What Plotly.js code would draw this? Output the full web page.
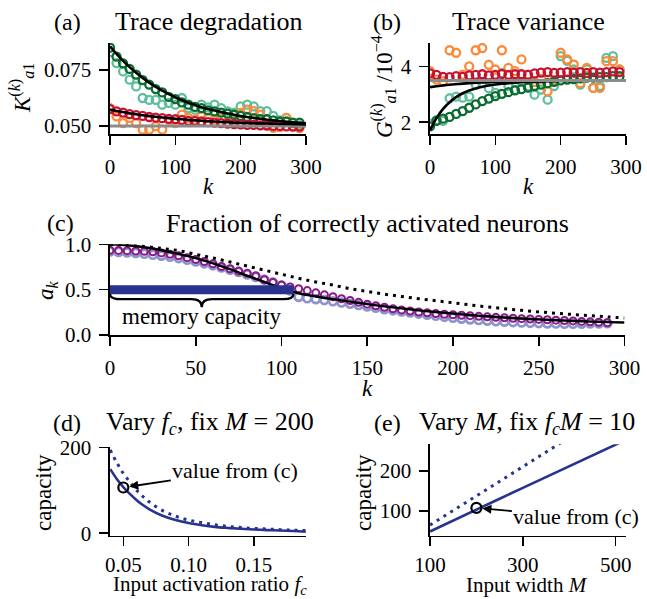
<!DOCTYPE html>
<html>
<head>
<meta charset="utf-8">
<script src="https://cdn.plot.ly/plotly-3.0.1.min.js"></script>
<style>html,body{margin:0;padding:0;background:#fff;}#chart{width:647px;height:599px;}</style>
</head>
<body>
<div id="chart"></div>
<script>
// ---------- data ----------
const kA = [0,10,20,30,40,50,60,70,80,90,100,110,120,130,140,150,160,170,180,190,200,210,220,230,240,250,260,270,280,290];
const kT = [0,10,20,30,40,50,60,70,80,90,100,110,120,130,140,150,160,170,180,190,200,210,220,230,240,250,260,270,280,290,300];

// (a) trace degradation K_a1^(k)
const aDark   = [0.085,0.081,0.078,0.0755,0.073,0.0705,0.0685,0.0665,0.065,0.063,0.062,0.0605,0.0595,0.0585,0.058,0.057,0.0565,0.056,0.0555,0.055,0.0545,0.054,0.0535,0.053,0.053,0.0525,0.052,0.052,0.0515,0.0515];
const aLight  = [0.083,0.0781,0.0744,0.0707,0.0677,0.0625,0.0617,0.0617,0.0595,0.0603,0.0595,0.0625,0.058,0.0573,0.0595,0.0583,0.0595,0.058,0.0565,0.056,0.0588,0.0595,0.0588,0.0566,0.0566,0.0545,0.0525,0.0536,0.0513,0.0503];
const aRed    = [0.0575,0.0565,0.056,0.0553,0.0548,0.0545,0.054,0.0537,0.0535,0.0532,0.053,0.0527,0.0523,0.0522,0.052,0.0517,0.0515,0.0513,0.051,0.0508,0.0507,0.0505,0.0505,0.0503,0.0502,0.05,0.05,0.0498,0.0497,0.0497];
const aOrange = [0.058,0.0543,0.0513,0.0536,0.0513,0.0484,0.0484,0.0499,0.0484,0.0528,0.0513,0.0551,0.0536,0.0528,0.0543,0.0536,0.0528,0.0536,0.0513,0.052,0.0558,0.0573,0.0566,0.0551,0.0506,0.0491,0.0495,0.0536,0.0499,0.049];
const aFitHigh = [0.0856,0.0822,0.0791,0.0763,0.0738,0.0715,0.0694,0.0675,0.0658,0.0642,0.0628,0.0615,0.0604,0.0594,0.0584,0.0576,0.0569,0.0562,0.0556,0.0550,0.0544,0.0540,0.0536,0.0532,0.0528,0.0525,0.0522,0.0519,0.0516,0.0514,0.0512];
const aFitLow  = [0.0573,0.0567,0.0562,0.0557,0.0552,0.0548,0.0544,0.0541,0.0538,0.0535,0.0532,0.053,0.0527,0.0525,0.0523,0.0521,0.052,0.0518,0.0517,0.0515,0.0514,0.0513,0.0512,0.0511,0.0511,0.051,0.0509,0.0509,0.0508,0.0508,0.0507];
const aBase = 0.05;

// (b) trace variance G_a1^(k) / 1e-4
const bDark   = [1.85,2.05,2.13,2.19,2.3,2.4,2.52,2.64,2.76,2.85,2.94,3.02,3.08,3.14,3.19,3.24,3.3,3.35,3.4,3.45,3.5,3.53,3.55,3.57,3.6,3.6,3.62,3.62,3.65,3.65];
const bLight  = [1.95,2.08,2.05,2.86,2.92,2.88,2.92,3.35,3.4,3.22,3.05,3.76,3.3,3.16,3.45,3.29,2.99,3.17,2.81,3.3,4.37,4.2,3.89,3.35,3.9,3.23,3.3,4.31,4.37,3.89];
const bRed    = [3.75,3.7,3.63,3.62,3.65,3.63,3.68,3.7,3.72,3.68,3.7,3.73,3.7,3.72,3.72,3.7,3.75,3.78,3.8,3.77,3.78,3.8,3.78,3.8,3.77,3.8,3.78,3.8,3.82,3.8];
const bOrange = [3.83,3.53,3.47,4.58,4.49,3.71,4.0,4.58,4.66,4.06,3.89,4.58,3.95,3.83,4.25,3.71,3.45,3.55,3.11,3.5,4.49,4.25,4.07,3.4,3.95,3.23,3.23,4.19,4.19,3.89];
const bFitHigh = [3.26,3.29,3.32,3.345,3.365,3.385,3.4,3.415,3.425,3.435,3.445,3.453,3.46,3.466,3.471,3.475,3.479,3.482,3.485,3.488,3.49,3.492,3.493,3.494,3.495,3.496,3.497,3.497,3.498,3.498,3.499];
const bFitLow  = [1.72,2.15,2.48,2.72,2.9,3.04,3.14,3.21,3.27,3.32,3.355,3.38,3.4,3.42,3.435,3.445,3.455,3.462,3.468,3.473,3.478,3.482,3.485,3.488,3.49,3.492,3.494,3.495,3.496,3.497,3.498];
const bBase = 3.5;

// (c) fraction of correctly activated neurons a_k
const kC = [0,5,10,15,20,25,30,35,40,45,50,55,60,65,70,75,80,85,90,95,100,105,110,115,120,125,130,135,140,145,150,155,160,165,170,175,180,185,190,195,200,205,210,215,220,225,230,235,240,245,250,255,260,265,270,275,280,285,290];
const cPurple   = [0.935,0.933,0.93,0.926,0.922,0.918,0.905,0.89,0.873,0.853,0.832,0.81,0.785,0.755,0.73,0.705,0.68,0.653,0.61,0.58,0.55,0.53,0.51,0.49,0.465,0.443,0.422,0.4,0.38,0.36,0.34,0.322,0.306,0.29,0.277,0.264,0.253,0.244,0.236,0.229,0.223,0.218,0.213,0.206,0.2,0.195,0.19,0.185,0.18,0.176,0.172,0.168,0.164,0.16,0.155,0.15,0.145,0.14,0.135];
const cLavender = [0.92,0.915,0.91,0.905,0.895,0.885,0.875,0.862,0.848,0.83,0.81,0.79,0.768,0.745,0.72,0.695,0.668,0.64,0.61,0.58,0.545,0.49,0.42,0.405,0.395,0.385,0.372,0.358,0.345,0.33,0.315,0.3,0.285,0.272,0.26,0.248,0.236,0.224,0.212,0.2,0.19,0.18,0.172,0.165,0.158,0.152,0.147,0.142,0.138,0.134,0.131,0.128,0.126,0.124,0.124,0.125,0.126,0.128,0.13];
const cTheory = [1.0,0.99,0.967,0.935,0.895,0.848,0.79,0.725,0.655,0.585,0.515,0.46,0.425,0.395,0.368,0.34,0.315,0.293,0.272,0.254,0.237,0.221,0.206,0.193,0.182,0.172,0.163,0.155,0.148,0.142,0.137];
const cDotted = [1.0,0.99,0.975,0.955,0.93,0.89,0.85,0.805,0.76,0.715,0.67,0.625,0.585,0.55,0.51,0.48,0.45,0.425,0.4,0.378,0.355,0.332,0.31,0.29,0.272,0.255,0.24,0.226,0.213,0.2,0.188];
const capacity = 107;
const capLevel = 0.5;

// (d) vary f_c, fix M = 200
const fc = [0.04,0.045,0.05,0.055,0.06,0.065,0.07,0.08,0.09,0.10,0.11,0.12,0.13,0.14,0.15,0.16,0.17,0.18,0.19];
const dSolid  = [150,127,108,92,78,66,56,41,31,24,19,15,12.5,10.5,9,7.5,6.5,5.5,4];
const dDotted = [195,165,140,120,101,86,73,53,40,31,25,20,16,13.5,11.5,10,8.5,7.5,6.5];
const fcPoint = 0.05;

// (e) vary M, fix f_c M = 10
const Mw = [100,150,200,250,300,350,400,450,500,520];
const eSolid  = [48,76,103,130,157,184,211,238,265,276];
const eDotted = [64,100.5,137,173.5,210,246.5,283,319.5,356,370.6];
const MPoint = 200;
const capPoint = 107;

// tick values
const ticksA_y = [0.05,0.075];
const ticksB_y = [2,4];
const ticksK   = [0,100,200,300];
const ticksC_x = [0,50,100,150,200,250,300];
const ticksC_y = [0,0.5,1.0];
const ticksD_x = [0.05,0.10,0.15];
const ticksD_y = [0,200];
const ticksE_x = [100,300,500];
const ticksE_y = [100,200];

// ---------- styles ----------
const F = 'Liberation Serif, Times New Roman, serif';
const C = {dark:'#0b6b30', light:'#5fbf9c', red:'#c4122f', orange:'#fb8a3a',
           purple:'#8a1a88', lav:'#8f93cc', blue:'#27338f', gray:'#8c8c8c'};
const X = p => p/647;
const Y = p => 1 - p/599;

function circles(x, y, color, xa, ya, size, lw){
  return {x:x, y:y, xaxis:xa, yaxis:ya, type:'scatter', mode:'markers', hoverinfo:'skip',
    marker:{symbol:'circle-open', size:size||8, color:color, line:{width:lw||2.3}}};
}
function line(x, y, color, xa, ya, width, dash, shape){
  return {x:x, y:y, xaxis:xa, yaxis:ya, type:'scatter', mode:'lines', hoverinfo:'skip',
    line:{color:color, width:width||2.5, dash:dash||'solid', shape:shape||'spline'}};
}

const traces = [
  // (a)
  circles(kA, aLight, C.light, 'x', 'y'),
  circles(kA, aOrange, C.orange, 'x', 'y'),
  circles(kA, aDark, C.dark, 'x', 'y'),
  circles(kA, aRed, C.red, 'x', 'y'),
  line([0,300], [aBase,aBase], C.gray, 'x', 'y', 3, 'solid', 'linear'),
  line(kT, aFitHigh, 'black', 'x', 'y', 2.6),
  line(kT, aFitLow, 'black', 'x', 'y', 2.6),
  // (b)
  circles(kA, bLight, C.light, 'x2', 'y2'),
  circles(kA, bOrange, C.orange, 'x2', 'y2'),
  circles(kA, bDark, C.dark, 'x2', 'y2'),
  circles(kA, bRed, C.red, 'x2', 'y2'),
  line(kT, bFitHigh, 'black', 'x2', 'y2', 2.6),
  line(kT, bFitLow, 'black', 'x2', 'y2', 2.6),
  line([0,300], [bBase,bBase], C.gray, 'x2', 'y2', 3, 'solid', 'linear'),
  // (c)
  circles(kC, cLavender, C.lav, 'x3', 'y3', 8, 2.6),
  circles(kC, cPurple, C.purple, 'x3', 'y3', 7, 2),
  line(kT, cDotted, 'black', 'x3', 'y3', 3, '3px,5px'),
  line(kT, cTheory, 'black', 'x3', 'y3', 2.4),
  line([0, capacity], [capLevel, capLevel], C.blue, 'x3', 'y3', 9, 'solid', 'linear'),
  // (d)
  line(fc, dDotted, C.blue, 'x4', 'y4', 3, '3px,5px'),
  line(fc, dSolid, C.blue, 'x4', 'y4', 2.6),
  circles([fcPoint], [capPoint], 'black', 'x4', 'y4', 10, 2.2),
  // (e)
  line(Mw, eDotted, C.blue, 'x5', 'y5', 3, '3px,5px', 'linear'),
  line(Mw, eSolid, C.blue, 'x5', 'y5', 2.6, 'solid', 'linear'),
  circles([MPoint], [capPoint], 'black', 'x5', 'y5', 10, 2.2)
];
traces.forEach(t => t.cliponaxis = true);
traces[traces.length-1].cliponaxis = false;
traces[21].cliponaxis = false;

function axis(domain, range, tickvals, fmt, anchor, standoff){
  return {domain:domain, range:range, anchor:anchor, tickvals:tickvals, tickformat:fmt||'',
    showgrid:false, zeroline:false, showline:true, linecolor:'black', linewidth:1.6,
    ticks:'outside', ticklen:9, tickwidth:1.6, tickcolor:'black',
    tickfont:{family:F, size:21, color:'black'},
    ticklabelstandoff:(standoff===undefined?4:standoff), fixedrange:true};
}

const yTop1 = 43, yBot1 = 134;
const layout = {
  width:647, height:599, margin:{l:0, r:0, t:0, b:0},
  paper_bgcolor:'white', plot_bgcolor:'white', showlegend:false,
  font:{family:F, size:21, color:'black'},
  xaxis:  axis([X(110), X(306)], [0,300], ticksK, 'd', 'y'),
  yaxis:  axis([Y(yBot1), Y(yTop1)], [0.0464,0.0871], ticksA_y, '.3f', 'x'),
  xaxis2: axis([X(430), X(626)], [0,300], ticksK, 'd', 'y2'),
  yaxis2: axis([Y(yBot1), Y(yTop1)], [1.58,4.84], ticksB_y, 'd', 'x2'),
  xaxis3: axis([X(110), X(624.5)], [0,300], ticksC_x, 'd', 'y3'),
  yaxis3: axis([Y(335), Y(244.3)], [0,1.0], ticksC_y, '.1f', 'x3'),
  xaxis4: axis([X(110), X(305.7)], [0.0398,0.1896], ticksD_x, '.2f', 'y4', 0),
  yaxis4: axis([Y(535.7), Y(446.7)], [-5.6,202.3], ticksD_y, 'd', 'x4'),
  xaxis5: axis([X(430), X(625.7)], [100,521.6], ticksE_x, 'd', 'y5', 0),
  yaxis5: axis([Y(535.7), Y(444.3)], [37.5,266], ticksE_y, 'd', 'x5'),
  shapes: [
    {type:'path', xref:'x3', yref:'y3', line:{color:'black', width:2.2},
     path:'M 0,0.455 Q 0,0.395 6,0.395 L '+(capacity/2-6)+',0.395 Q '+(capacity/2)+',0.395 '+(capacity/2)+',0.305'+
          ' Q '+(capacity/2)+',0.395 '+(capacity/2+6)+',0.395 L '+(capacity-6)+',0.395 Q '+capacity+',0.395 '+capacity+',0.455'}
  ],
  annotations: []
};

function txt(x, y, text, size, angle, extra){
  return Object.assign({xref:'paper', yref:'paper', x:X(x), y:Y(y), text:text, showarrow:false,
    xanchor:'center', yanchor:'middle', textangle:angle||0, font:{family:F, size:size||22, color:'black'}}, extra||{});
}
const A = layout.annotations;
// panel titles
A.push(txt(67, 22, '(a)', 24));
A.push(txt(209, 22, 'Trace degradation', 26));
A.push(txt(387, 22, '(b)', 24));
A.push(txt(528, 22, 'Trace variance', 26));
A.push(txt(60, 223, '(c)', 24));
A.push(txt(367, 223, 'Fraction of correctly activated neurons', 26));
A.push(txt(67, 423, '(d)', 24));
A.push(txt(210, 423, 'Vary <i>f</i><sub><i>c</i></sub>, fix <i>M</i> = 200', 26));
A.push(txt(387, 423, '(e)', 24));
A.push(txt(527, 423, 'Vary <i>M</i>, fix <i>f</i><sub><i>c</i></sub><i>M</i> = 10', 26));
// axis titles
A.push(txt(208, 187, '<i>k</i>', 23));
A.push(txt(528, 187, '<i>k</i>', 23));
A.push(txt(367, 388, '<i>k</i>', 23));
A.push(txt(210, 585, 'Input activation ratio <i>f</i><sub><i>c</i></sub>', 21));
A.push(txt(527, 585, 'Input width <i>M</i>', 21));
A.push(txt(22, 88, '<i>K</i><sup>(<i>k</i>)</sup><sub><i>a</i>1</sub>', 23, -90));
A.push(txt(384, 87, '<i>G</i><sup>(<i>k</i>)</sup><sub><i>a</i>1</sub> /10<sup>−4</sup>', 23, -90));
A.push(txt(47, 290, '<i>a</i><sub><i>k</i></sub>', 23, -90));
A.push(txt(43, 493, 'capacity', 23, -90));
A.push(txt(363, 493, 'capacity', 23, -90));
// in-plot labels
A.push({xref:'x3', yref:'y3', x:capacity/2, y:0.2, text:'memory capacity', showarrow:false,
  xanchor:'center', yanchor:'middle', font:{family:F, size:23, color:'black'}});
A.push({xref:'x4', yref:'y4', x:fcPoint, y:capPoint, text:'value from (c)', showarrow:true,
  arrowhead:2, arrowsize:1, arrowwidth:1.8, arrowcolor:'black', ax:112, ay:-17, standoff:6,
  font:{family:F, size:22, color:'black'}});
A.push({xref:'x5', yref:'y5', x:MPoint, y:capPoint, text:'value from (c)', showarrow:true,
  arrowhead:2, arrowsize:1, arrowwidth:1.8, arrowcolor:'black', ax:100, ay:9, standoff:6,
  font:{family:F, size:22, color:'black'}});

Plotly.newPlot('chart', traces, layout, {staticPlot:true, displayModeBar:false});
</script>
</body>
</html>
